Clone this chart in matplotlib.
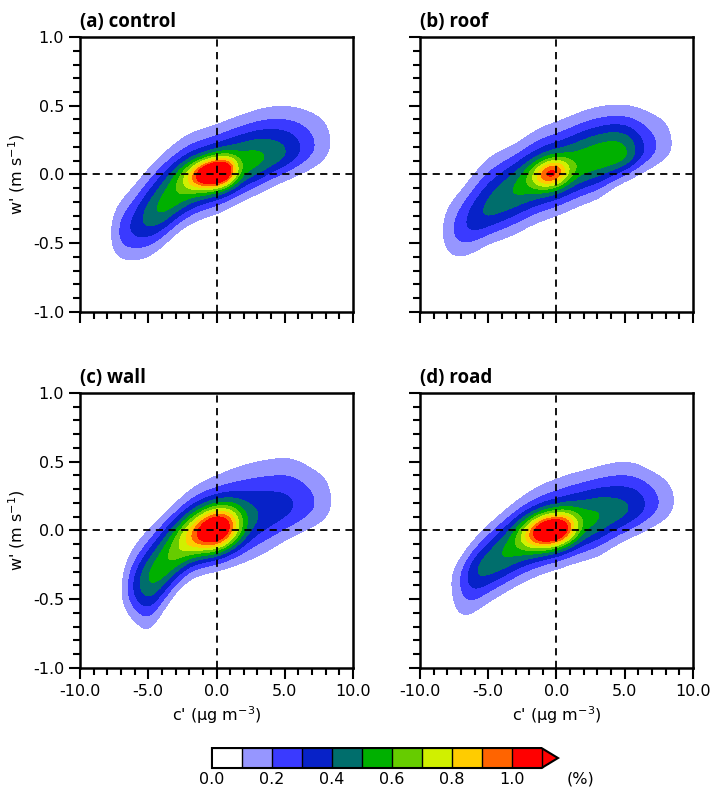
import numpy as np
import matplotlib
matplotlib.use('Agg')
import matplotlib.pyplot as plt
from matplotlib.ticker import MultipleLocator

plt.rcParams['axes.unicode_minus'] = False
plt.rcParams['font.family'] = 'DejaVu Sans'

c_anchor = [-9, -8, -7, -6, -5, -4, -3, -2, -1, 0, 1, 2, 3, 4, 5, 6, 7, 8, 9, 10]

titles = ['(a) control', '(b) roof', '(c) wall', '(d) road']

# ridge w' (m/s), band level (%), spread above / below the ridge
ridge_control = [-0.47, -0.45, -0.42, -0.37, -0.30, -0.23, -0.15, -0.08, -0.035, 0.0, 0.04, 0.075, 0.11, 0.14, 0.16, 0.19, 0.21, 0.23, 0.24, 0.25]
band_control = [0.0, 0.03, 0.23, 0.33, 0.45, 0.54, 0.57, 0.58, 0.58, 0.58, 0.57, 0.56, 0.53, 0.47, 0.41, 0.31, 0.21, 0.13, 0.03, 0.0]
sup_control = [0.17, 0.17, 0.17, 0.18, 0.19, 0.20, 0.20, 0.20, 0.195, 0.192, 0.193, 0.195, 0.197, 0.20, 0.20, 0.195, 0.19, 0.19, 0.19, 0.19]
sdn_control = [0.15, 0.15, 0.15, 0.165, 0.173, 0.16, 0.148, 0.148, 0.15, 0.153, 0.148, 0.14, 0.137, 0.13, 0.122, 0.125, 0.13, 0.135, 0.135, 0.135]

ridge_roof = [-0.42, -0.42, -0.38, -0.32, -0.25, -0.18, -0.11, -0.06, -0.02, 0.01, 0.05, 0.09, 0.12, 0.14, 0.15, 0.18, 0.20, 0.22, 0.23, 0.24]
band_roof = [0.0, 0.14, 0.26, 0.36, 0.43, 0.47, 0.51, 0.53, 0.54, 0.55, 0.55, 0.56, 0.57, 0.58, 0.54, 0.35, 0.22, 0.14, 0.04, 0.0]
sup_roof = [0.18, 0.18, 0.18, 0.20, 0.215, 0.20, 0.18, 0.19, 0.20, 0.20, 0.20, 0.20, 0.198, 0.195, 0.193, 0.19, 0.185, 0.185, 0.185, 0.185]
sdn_roof = [0.16, 0.16, 0.16, 0.15, 0.148, 0.165, 0.177, 0.172, 0.17, 0.168, 0.165, 0.163, 0.16, 0.13, 0.108, 0.112, 0.112, 0.115, 0.115, 0.115]

ridge_wall = [-0.50, -0.48, -0.45, -0.41, -0.35, -0.27, -0.18, -0.09, -0.035, 0.0, 0.04, 0.075, 0.11, 0.14, 0.17, 0.19, 0.20, 0.21, 0.22, 0.22]
band_wall = [0.0, 0.0, 0.05, 0.33, 0.52, 0.57, 0.58, 0.57, 0.54, 0.50, 0.46, 0.43, 0.39, 0.36, 0.33, 0.28, 0.21, 0.14, 0.03, 0.0]
sup_wall = [0.175, 0.175, 0.175, 0.175, 0.18, 0.186, 0.192, 0.20, 0.21, 0.22, 0.228, 0.233, 0.236, 0.235, 0.233, 0.22, 0.20, 0.195, 0.195, 0.195]
sdn_wall = [0.13, 0.13, 0.13, 0.16, 0.22, 0.17, 0.14, 0.14, 0.148, 0.156, 0.165, 0.175, 0.18, 0.17, 0.155, 0.148, 0.14, 0.14, 0.14, 0.14]

ridge_road = [-0.42, -0.40, -0.37, -0.31, -0.24, -0.18, -0.12, -0.07, -0.03, 0.0, 0.04, 0.07, 0.10, 0.13, 0.15, 0.18, 0.20, 0.21, 0.22, 0.22]
band_road = [0.0, 0.04, 0.20, 0.40, 0.46, 0.50, 0.52, 0.53, 0.53, 0.53, 0.53, 0.52, 0.51, 0.46, 0.42, 0.35, 0.24, 0.15, 0.06, 0.0]
sup_road = [0.13, 0.13, 0.13, 0.145, 0.157, 0.167, 0.178, 0.19, 0.20, 0.203, 0.202, 0.20, 0.20, 0.204, 0.207, 0.19, 0.168, 0.165, 0.165, 0.165]
sdn_road = [0.21, 0.21, 0.21, 0.168, 0.16, 0.156, 0.155, 0.154, 0.153, 0.153, 0.155, 0.158, 0.16, 0.145, 0.13, 0.128, 0.128, 0.128, 0.128, 0.128]

# peak of each JPDF: centre (c', w'), tilt, height above the band, widths and shape
core_c = [-0.2, -0.35, -0.25, -0.42]
core_w = [0.01, 0.01, 0.005, 0.0]
core_tilt = [0.015, 0.02, 0.02, 0.015]
core_amp = [0.85, 0.54, 0.80, 0.80]
core_sc_left = [1.08, 0.9, 1.06, 1.27]
core_sc_right = [1.18, 0.75, 1.35, 1.24]
core_q_left = [1.7, 2.0, 1.3, 2.0]
core_q_right = [4.0, 2.0, 2.6, 2.6]
core_sw = [0.072, 0.07, 0.11, 0.085]

levels = [0.0, 0.1, 0.2, 0.3, 0.4, 0.5, 0.6, 0.7, 0.8, 0.9, 1.0, 1.1]
colors = ['#ffffff', '#9696ff', '#3a3aff', '#0722c8', '#006e6c', '#00b000',
          '#66cc00', '#d0f000', '#ffcc00', '#ff6400', '#ff0000', '#ff0000']
cbar_ticks = [0.0, 0.2, 0.4, 0.6, 0.8, 1.0]


def smooth(z, n_c, n_w):
    # light gaussian blur to round off the piecewise-linear band
    kc = np.exp(-0.5 * (np.arange(-3 * n_c, 3 * n_c + 1) / n_c) ** 2)
    kw = np.exp(-0.5 * (np.arange(-3 * n_w, 3 * n_w + 1) / n_w) ** 2)
    kc /= kc.sum()
    kw /= kw.sum()
    z = np.apply_along_axis(lambda r: np.convolve(r, kc, mode='same'), 1, z)
    z = np.apply_along_axis(lambda r: np.convolve(r, kw, mode='same'), 0, z)
    return z


def jpdf(cc, ww, ridge, band, s_up, s_dn, k):
    wr = np.interp(cc, c_anchor, ridge)
    b = np.interp(cc, c_anchor, band)
    d = ww - wr
    s = np.where(d > 0, np.interp(cc, c_anchor, s_up), np.interp(cc, c_anchor, s_dn))
    z = b * np.exp(-0.5 * (d / s) ** 2)
    dc = cc - core_c[k]
    dw = ww - core_w[k] - core_tilt[k] * dc
    left = dc < 0
    sc = np.where(left, core_sc_left[k], core_sc_right[k])
    q = np.where(left, core_q_left[k], core_q_right[k])
    z += core_amp[k] * np.exp(-0.5 * np.abs(dc / sc) ** q - 0.5 * (dw / core_sw[k]) ** 2)
    return smooth(z, 8, 2)


c = np.linspace(-10, 10, 401)
w = np.linspace(-1, 1, 401)
cc, ww = np.meshgrid(c, w)

fields = [
    jpdf(cc, ww, ridge_control, band_control, sup_control, sdn_control, 0),
    jpdf(cc, ww, ridge_roof, band_roof, sup_roof, sdn_roof, 1),
    jpdf(cc, ww, ridge_wall, band_wall, sup_wall, sdn_wall, 2),
    jpdf(cc, ww, ridge_road, band_road, sup_road, sdn_road, 3),
]

fig = plt.figure(figsize=(7.13, 7.89), dpi=100)
positions = [[0.1122, 0.6046, 0.383, 0.3485],
             [0.589, 0.6046, 0.383, 0.3485],
             [0.1122, 0.1534, 0.383, 0.3485],
             [0.589, 0.1534, 0.383, 0.3485]]

for i, (pos, title, z) in enumerate(zip(positions, titles, fields)):
    ax = fig.add_axes(pos)
    cf = ax.contourf(cc, ww, z, levels=levels, colors=colors, extend='max')
    ax.axhline(0, color='k', ls='--', lw=1.3, dashes=(4, 3))
    ax.axvline(0, color='k', ls='--', lw=1.3, dashes=(4, 3))
    ax.set_xlim(-10, 10)
    ax.set_ylim(-1, 1)
    ax.xaxis.set_major_locator(MultipleLocator(5))
    ax.xaxis.set_minor_locator(MultipleLocator(1))
    ax.yaxis.set_major_locator(MultipleLocator(0.5))
    ax.yaxis.set_minor_locator(MultipleLocator(0.1))
    ax.xaxis.set_major_formatter('{x:.1f}')
    ax.yaxis.set_major_formatter('{x:.1f}')
    ax.tick_params(which='both', direction='out', top=False, right=False, width=1.5, labelsize=11.5)
    ax.tick_params(which='major', length=8)
    ax.tick_params(which='minor', length=5)
    for sp in ax.spines.values():
        sp.set_linewidth(1.8)
    if i < 2:
        ax.tick_params(labelbottom=False)
    else:
        ax.set_xlabel("c' (\u03bcg m$^{-3}$)", fontsize=11.5)
    if i % 2 == 1:
        ax.tick_params(labelleft=False)
    else:
        ax.set_ylabel("w' (m s$^{-1}$)", fontsize=11.5)
    ax.set_title(title, loc='left', fontsize=13.5, fontweight='bold', family='Open Sans', pad=7)

cax = fig.add_axes([0.2973, 0.0266, 0.4853, 0.0253])
cb = fig.colorbar(cf, cax=cax, orientation='horizontal', ticks=cbar_ticks, drawedges=True)
cb.ax.xaxis.set_major_formatter('{x:.1f}')
cb.ax.tick_params(length=0, labelsize=11.5, pad=3)
cb.outline.set_linewidth(1.5)
cb.dividers.set_linewidth(1.0)
fig.text(0.795, 0.0125, '(%)', fontsize=11.5, va='center')

fig.savefig('out.png', dpi=100)
